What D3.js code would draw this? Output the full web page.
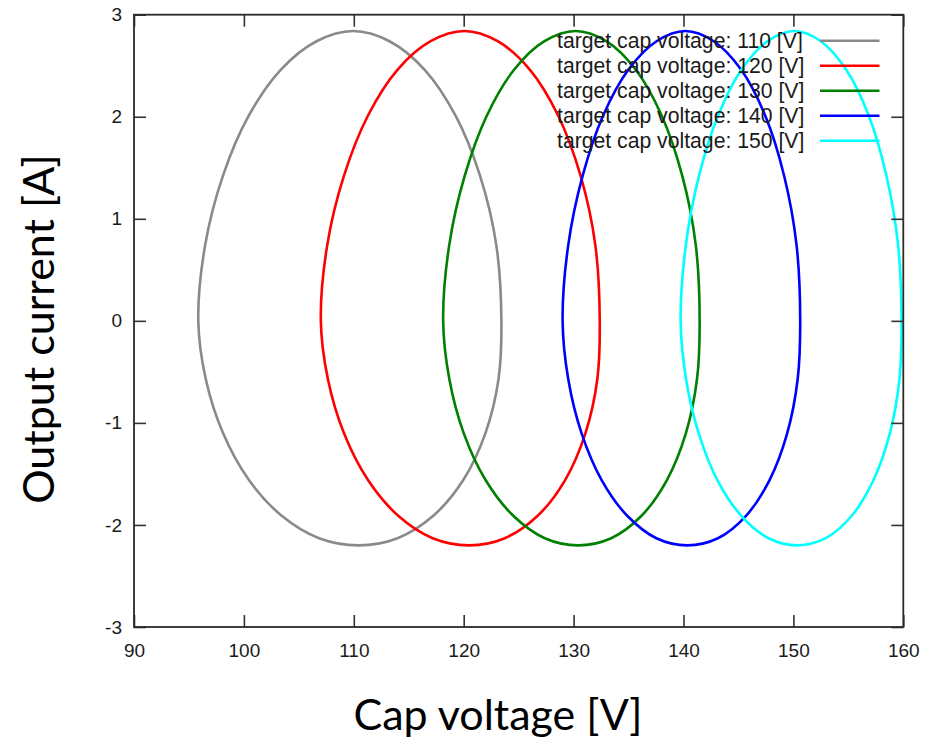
<!DOCTYPE html>
<html>
<head>
<meta charset="utf-8">
<script src="https://cdn.jsdelivr.net/npm/d3@7"></script>
<style>
  html, body { margin: 0; padding: 0; background: #fff; }
  svg { display: block; }
</style>
</head>
<body>
<svg id="chart" width="932" height="752"></svg>
<script>
// Target voltages of the five runs and their trace colours
const targetVoltages = [110, 120, 130, 140, 150];
const seriesColors = ["#8a8a8a", "#ff0000", "#008000", "#0000ff", "#00ffff"];

// Current levels [A] at which each loop's left and right branch is sampled
const currentLevels = [2.74, 2.46, 2.01, 1.42, 0.74, 0, -0.57, -1.1, -1.56, -1.91, -2.13];

// Apex (max current) and trough (min current) of every loop
const peakVoltage   = [109.94, 120.05, 130.17, 140.16, 150.08];
const peakCurrent   = [2.84, 2.84, 2.84, 2.84, 2.84];
const troughVoltage = [110.44, 120.49, 130.42, 140.35, 150.36];
const troughCurrent = [-2.2, -2.2, -2.2, -2.2, -2.2];

// Cap voltage [V] on the left / right branch at each current level
const left110  = [106.61, 103.35, 100.44, 98.09, 96.47, 95.85, 96.53, 98.10, 100.46, 103.44, 106.84];
const right110 = [113.25, 116.45, 119.26, 121.49, 122.97, 123.43, 123.17, 121.98, 119.96, 117.23, 113.98];
const left120  = [116.99, 113.97, 111.28, 109.10, 107.58, 107.00, 107.64, 109.10, 111.29, 114.04, 117.18];
const right120 = [123.09, 126.03, 128.60, 130.64, 131.98, 132.38, 132.16, 131.08, 129.23, 126.73, 123.74];
const left130  = [127.35, 124.58, 122.10, 120.09, 118.68, 118.13, 118.69, 120.00, 121.99, 124.51, 127.38];
const right130 = [132.97, 135.66, 138.02, 139.89, 141.12, 141.47, 141.23, 140.22, 138.49, 136.18, 133.42];
const left140  = [137.55, 134.98, 132.68, 130.82, 129.51, 129.00, 129.51, 130.72, 132.55, 134.88, 137.53];
const right140 = [142.75, 145.25, 147.44, 149.16, 150.29, 150.62, 150.39, 149.44, 147.83, 145.69, 143.13];
const left150  = [147.65, 145.27, 143.14, 141.41, 140.21, 139.74, 140.23, 141.38, 143.08, 145.26, 147.74];
const right150 = [152.49, 154.81, 156.86, 158.47, 159.53, 159.84, 159.65, 158.78, 157.29, 155.31, 152.94];

const leftBranches  = [left110, left120, left130, left140, left150];
const rightBranches = [right110, right120, right130, right140, right150];

// Axis ticks
const xTicks = [90, 100, 110, 120, 130, 140, 150, 160];
const yTicks = [-3, -2, -1, 0, 1, 2, 3];

const svg = d3.select("#chart");
const frame = { left: 134, right: 903.3, top: 14.7, bottom: 627 };

const x = d3.scaleLinear().domain([90, 160]).range([frame.left, frame.right]);
const y = d3.scaleLinear().domain([-3, 3]).range([frame.bottom, frame.top]);

// Build each closed loop: apex, down the left branch, trough, back up the right branch
const loops = targetVoltages.map((t, i) => {
  const pts = [[peakVoltage[i], peakCurrent[i]]];
  currentLevels.forEach((c, k) => pts.push([leftBranches[i][k], c]));
  pts.push([troughVoltage[i], troughCurrent[i]]);
  for (let k = currentLevels.length - 1; k >= 0; k--) pts.push([rightBranches[i][k], currentLevels[k]]);
  return { target: t, color: seriesColors[i], points: pts };
});

const line = d3.line()
  .x(d => x(d[0]))
  .y(d => y(d[1]))
  .curve(d3.curveCatmullRomClosed.alpha(0.5));

svg.append("g")
  .selectAll("path")
  .data(loops)
  .join("path")
  .attr("d", d => line(d.points))
  .attr("fill", "none")
  .attr("stroke", d => d.color)
  .attr("stroke-width", 2.6);

// Axes with inward ticks, mirrored on top and right
const tickLen = 12;
const axisFont = "'Liberation Sans', Arial, sans-serif";
const fmt = d => String(d);

const gx = svg.append("g").attr("transform", `translate(0,${frame.bottom})`)
  .call(d3.axisBottom(x).tickValues(xTicks).tickSize(-tickLen).tickPadding(17).tickFormat(fmt));
const gxTop = svg.append("g").attr("transform", `translate(0,${frame.top})`)
  .call(d3.axisTop(x).tickValues(xTicks).tickSize(-tickLen).tickFormat(""));
const gy = svg.append("g").attr("transform", `translate(${frame.left},0)`)
  .call(d3.axisLeft(y).tickValues(yTicks).tickSize(-tickLen).tickPadding(12).tickFormat(fmt));
const gyRight = svg.append("g").attr("transform", `translate(${frame.right},0)`)
  .call(d3.axisRight(y).tickValues(yTicks).tickSize(-tickLen).tickFormat(""));

[gx, gxTop, gy, gyRight].forEach(g => {
  g.select(".domain").remove();
  g.selectAll(".tick line").attr("stroke", "#333").attr("stroke-width", 1.6);
  g.selectAll(".tick text")
    .attr("fill", "#1a1a1a")
    .style("font-family", axisFont)
    .style("font-size", "19px");
});

// Plot border
svg.append("rect")
  .attr("x", frame.left).attr("y", frame.top)
  .attr("width", frame.right - frame.left).attr("height", frame.bottom - frame.top)
  .attr("fill", "none").attr("stroke", "#2a2a2a").attr("stroke-width", 1.8);

// Legend
const legend = svg.append("g");
const rowY = d3.scaleLinear().domain([0, 1]).range([40.7, 65.7]);
loops.forEach((d, i) => {
  legend.append("text")
    .attr("x", 557).attr("y", rowY(i)).attr("dy", "0.35em")
    .attr("fill", "#1a1a1a")
    .style("font-family", axisFont).style("font-size", "21.2px")
    .text(`target cap voltage: ${d.target} [V]`);
  legend.append("line")
    .attr("x1", 820).attr("x2", 879.5)
    .attr("y1", rowY(i)).attr("y2", rowY(i))
    .attr("stroke", d.color).attr("stroke-width", 2.6);
});

// Axis titles
const titleFont = "Lato, 'Open Sans', sans-serif";
svg.append("text")
  .attr("x", 498).attr("y", 730)
  .attr("text-anchor", "middle")
  .style("font-family", titleFont).style("font-size", "43px")
  .attr("fill", "#000")
  .text("Cap voltage [V]");
svg.append("text")
  .attr("transform", "translate(54,329) rotate(-90)")
  .attr("text-anchor", "middle")
  .style("font-family", titleFont).style("font-size", "43px")
  .attr("fill", "#000")
  .text("Output current [A]");
</script>
</body>
</html>
